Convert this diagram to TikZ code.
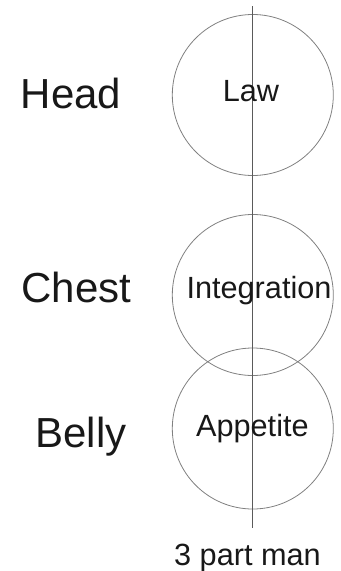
\documentclass[tikz,border=0pt]{standalone}
\usepackage{fontspec}
\setmainfont{Liberation Sans}
\definecolor{manucolor0001}{RGB}{128,128,128}
\definecolor{manucolor0002}{RGB}{90,90,90}
\definecolor{manucolor0003}{RGB}{24,24,24}

\begin{document}
\begin{tikzpicture}[x=0.75pt,y=-0.75pt
,mstyle0/.style={draw=manucolor0001,line width=0.6pt,circle,minimum size=120.75pt,inner sep=0}
,mstyle1/.style={color=manucolor0002,line width=0.6pt}
,mstyle2/.style={color=manucolor0003,anchor=base,inner sep=0,font=\fontsize{31.5}{36}\selectfont}
,mstyle3/.style={color=manucolor0003,anchor=base,inner sep=0,font=\fontsize{23}{27}\selectfont}
]
\useasboundingbox (0,0) rectangle (340,571);
\node[mstyle0] (headring) at (252.8,95) {};
\node[mstyle0] (chestring) at (252.8,295) {};
\node[mstyle0] (bellyring) at (252.8,428.5) {};
\coordinate (axistop) at (252.5,6);
\coordinate (axisbot) at (252.5,528);
\draw[mstyle1] (axistop) -- (axisbot);
\node[mstyle2] (headlbl) at (71,108.3) {Head};
\node[mstyle2] (chestlbl) at (76.5,302) {Chest};
\node[mstyle2] (bellylbl) at (81,447) {Belly};
\node[mstyle3] (lawlbl) at (251,101.7) {Law};
\node[mstyle3] (integlbl) at (259,298.3) {Integration};
\node[mstyle3] (appetlbl) at (252.4,436.7) {Appetite};
\node[mstyle3] (manlbl) at (247.5,565) {3 part man};
\end{tikzpicture}
\end{document}
